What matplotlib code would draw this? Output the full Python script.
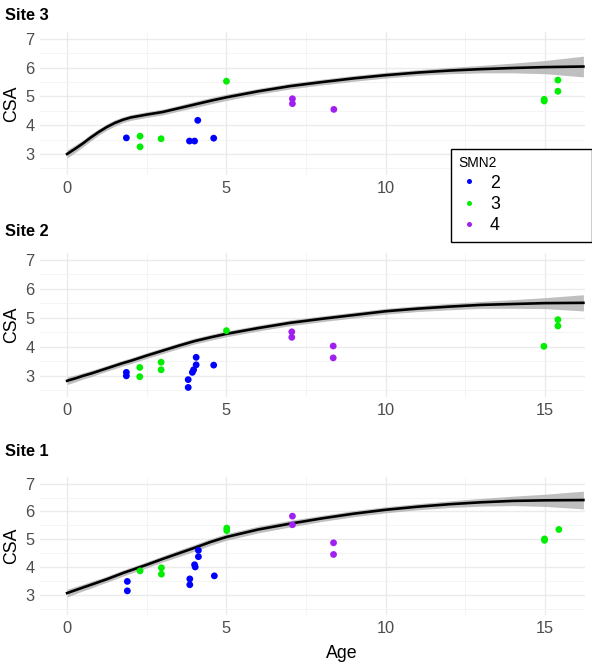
#!/usr/bin/env python3
"""
CSA vs Age by site, coloured by SMN2 copy number
"""

import matplotlib
matplotlib.use('Agg')
import matplotlib.pyplot as plt
from matplotlib.lines import Line2D
import numpy as np

plt.rcParams['font.family'] = ['Liberation Sans', 'DejaVu Sans']

SMN2_COLORS = {2: '#0000ff', 3: '#00ee00', 4: '#a020f0'}
SMN2_LEVELS = [2, 3, 4]

# ---- observed points ----
site3_age = [1.86, 2.29, 2.29, 2.95, 3.84, 4.0, 4.1, 4.6, 5.0, 7.07, 7.07, 8.37, 14.97, 14.97, 15.4, 15.4]
site3_csa = [3.56, 3.62, 3.25, 3.53, 3.45, 3.45, 4.17, 3.55, 5.53, 4.92, 4.75, 4.55, 4.84, 4.9, 5.57, 5.18]
site3_smn2 = [2, 3, 3, 3, 2, 2, 2, 2, 3, 4, 4, 4, 3, 3, 3, 3]

site2_age = [1.86, 1.86, 2.28, 2.28, 2.95, 2.95, 3.8, 3.8, 3.93, 3.97, 4.05, 4.05, 4.6, 5.0,
             7.05, 7.05, 8.35, 8.35, 14.96, 15.4, 15.4]
site2_csa = [3.12, 3.0, 3.29, 2.97, 3.47, 3.21, 2.87, 2.6, 3.12, 3.21, 3.64, 3.38, 3.37, 4.56,
             4.52, 4.33, 4.03, 3.62, 4.02, 4.94, 4.72]
site2_smn2 = [2, 2, 3, 3, 3, 3, 2, 2, 2, 2, 2, 2, 2, 3, 4, 4, 4, 4, 3, 3, 3]

site1_age = [1.89, 1.89, 2.29, 2.96, 2.96, 3.85, 3.85, 4.0, 4.02, 4.12, 4.12, 4.62, 5.01, 5.01,
             7.07, 7.07, 8.36, 8.36, 14.98, 14.98, 15.43]
site1_csa = [3.48, 3.14, 3.86, 3.97, 3.74, 3.57, 3.36, 4.08, 4.0, 4.6, 4.37, 3.68, 5.4, 5.31,
             5.83, 5.52, 4.87, 4.45, 4.96, 5.01, 5.35]
site1_smn2 = [2, 2, 3, 3, 3, 2, 2, 2, 2, 2, 2, 2, 3, 3, 4, 4, 4, 4, 3, 3, 3]

# ---- fitted curves with confidence half-width ----
fit_age = [0, 0.25, 0.5, 0.75, 1, 1.25, 1.5, 1.75, 2, 2.5, 3, 3.5, 4, 4.5, 5,
           6, 7, 8, 9, 10, 11, 12, 13, 14, 15, 16.2]
site3_fit = [3.0, 3.18, 3.37, 3.58, 3.77, 3.94, 4.08, 4.19, 4.27, 4.37, 4.46, 4.59, 4.72, 4.85, 4.97,
             5.18, 5.36, 5.5, 5.63, 5.74, 5.83, 5.9, 5.95, 5.99, 6.02, 6.04]
site3_se = [0.14, 0.13, 0.12, 0.12, 0.11, 0.11, 0.11, 0.1, 0.1, 0.1, 0.1, 0.1, 0.11, 0.11, 0.11,
            0.1, 0.1, 0.1, 0.1, 0.1, 0.1, 0.11, 0.13, 0.17, 0.23, 0.36]
site2_fit = [2.83, 2.91, 3.0, 3.08, 3.17, 3.26, 3.35, 3.44, 3.52, 3.7, 3.87, 4.04, 4.2, 4.33, 4.45,
             4.65, 4.83, 4.97, 5.1, 5.23, 5.32, 5.39, 5.45, 5.48, 5.51, 5.52]
site2_se = [0.13, 0.12, 0.11, 0.11, 0.1, 0.1, 0.1, 0.1, 0.1, 0.1, 0.1, 0.1, 0.1, 0.1, 0.1,
            0.1, 0.1, 0.1, 0.1, 0.1, 0.1, 0.11, 0.12, 0.15, 0.19, 0.28]
site1_fit = [3.06, 3.16, 3.26, 3.36, 3.46, 3.56, 3.67, 3.78, 3.88, 4.08, 4.29, 4.49, 4.69, 4.9, 5.08,
             5.35, 5.56, 5.75, 5.92, 6.06, 6.17, 6.26, 6.33, 6.38, 6.4, 6.41]
site1_se = [0.14, 0.13, 0.12, 0.12, 0.11, 0.11, 0.11, 0.11, 0.11, 0.11, 0.11, 0.12, 0.12, 0.12, 0.12,
            0.12, 0.12, 0.11, 0.11, 0.11, 0.11, 0.12, 0.14, 0.17, 0.22, 0.32]

SITES = [
    ('Site 3', site3_age, site3_csa, site3_smn2, site3_fit, site3_se),
    ('Site 2', site2_age, site2_csa, site2_smn2, site2_fit, site2_se),
    ('Site 1', site1_age, site1_csa, site1_smn2, site1_fit, site1_se),
]

W, H = 592, 667
fig = plt.figure(figsize=(W / 100, H / 100), dpi=100)

# panel boxes in pixels: (top, bottom), title y
panels = [(32, 175, 15), (253, 397, 231), (477, 615, 452)]
left_px, right_px = 40, 585

for (name, age, csa, smn2, fit, se), (top, bot, ty) in zip(SITES, panels):
    ax = fig.add_axes([left_px / W, 1 - bot / H, (right_px - left_px) / W, (bot - top) / H])
    ax.set_xlim(-0.85, 16.25)
    ax.set_ylim(2.27, 7.24)

    ax.set_xticks([0, 5, 10, 15])
    ax.set_xticks([2.5, 7.5, 12.5], minor=True)
    ax.set_yticks([3, 4, 5, 6, 7])
    ax.set_yticks([2.5, 3.5, 4.5, 5.5, 6.5], minor=True)
    ax.grid(which='major', color='#ebebeb', linewidth=1.0)
    ax.grid(which='minor', color='#f3f3f3', linewidth=0.6)
    ax.set_axisbelow(True)
    for s in ax.spines.values():
        s.set_visible(False)
    ax.tick_params(which='both', length=0, labelsize=11.8, labelcolor='#4d4d4d', pad=4)

    fa = np.array(fit_age)
    fy = np.array(fit)
    fs = np.array(se)
    ax.fill_between(fa, fy - fs, fy + fs, color='#b0b0b0', alpha=0.8, linewidth=0, zorder=2)
    ax.plot(fa, fy, color='black', linewidth=1.9, zorder=3, solid_joinstyle='round')

    cols = [SMN2_COLORS[g] for g in smn2]
    ax.scatter(age, csa, c=cols, s=24, linewidths=0, zorder=4)

    ax.set_ylabel('CSA', fontsize=12.8, color='black', labelpad=4)
    fig.text(5 / W, 1 - ty / H, name, fontsize=11.8, fontweight='bold', va='center', ha='left')

fig.text(342 / W, 1 - 653 / H, 'Age', fontsize=12.8, ha='center', va='center')

handles = [Line2D([0], [0], marker='o', linestyle='', markersize=3.6,
                  markerfacecolor=SMN2_COLORS[g], markeredgewidth=0) for g in SMN2_LEVELS]
leg = fig.legend(handles, [str(g) for g in SMN2_LEVELS], title='SMN2',
                 loc='upper left', bbox_to_anchor=(451 / W, 1 - 149 / H, 141 / W, 0.0),
                 mode='expand', fontsize=12.8, title_fontsize=9.9, alignment='left',
                 frameon=True, fancybox=False, framealpha=1, edgecolor='black',
                 handletextpad=0.6, labelspacing=0.25, borderpad=0.4, handlelength=1.2,
                 borderaxespad=0)
leg.get_frame().set_linewidth(1.0)

plt.savefig('out.png', dpi=100)
print("saved out.png")
